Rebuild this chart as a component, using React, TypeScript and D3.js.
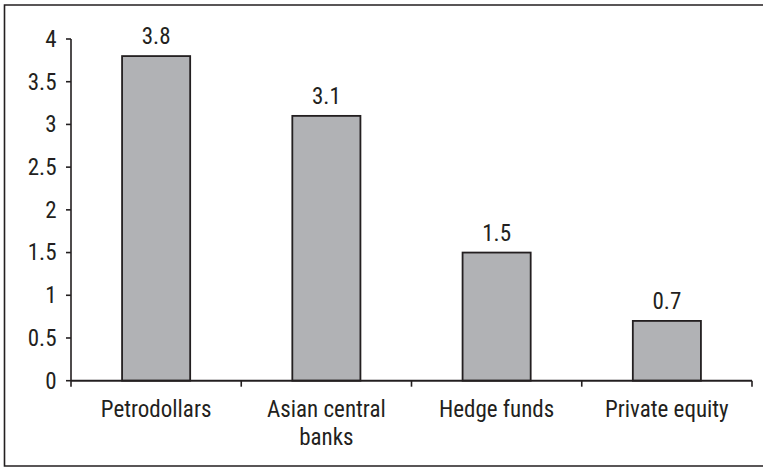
import React from "react";
import * as d3 from "d3";

const categories: string[][] = [["Petrodollars"], ["Asian central", "banks"], ["Hedge funds"], ["Private equity"]];
const values: number[] = [3.8, 3.1, 1.5, 0.7];
const valueLabels: string[] = ["3.8", "3.1", "1.5", "0.7"];
const yTicks: number[] = [0, 0.5, 1, 1.5, 2, 2.5, 3, 3.5, 4];
const yTickLabels: string[] = ["0", "0.5", "1", "1.5", "2", "2.5", "3", "3.5", "4"];

const W = 763;
const H = 467;
const FONT = "'Liberation Sans Narrow', 'Arial Narrow', 'Roboto Condensed', sans-serif";
const FS = 23;

export default function App() {
  const x0 = 71, x1 = 752, yBase = 380.7, yTop = 39;
  const x = d3.scaleBand<number>().domain(values.map((_, i) => i)).range([x0, x1]).paddingInner(0).paddingOuter(0);
  const y = d3.scaleLinear().domain([0, 4]).range([yBase, yTop]);
  const bw = x.bandwidth() * 0.4;
  const ink = "#231f20";
  const boundaries = d3.range(values.length + 1).map((i) => x0 + i * x.bandwidth());

  return (
    <svg width={W} height={H} style={{ position: "absolute", left: 0, top: 0, background: "#fff" }} fontFamily={FONT}>
      {/* frame */}
      <path d={`M${W + 5},5 H4.5 V466 H${W + 5}`} fill="none" stroke={ink} strokeWidth={1.6} />
      {/* bars */}
      {values.map((v, i) => {
        const cx = (x(i) as number) + x.bandwidth() / 2;
        return (
          <g key={i}>
            <rect x={cx - bw / 2} y={y(v)} width={bw} height={yBase - y(v)} fill="#b1b2b5" stroke={ink} strokeWidth={1.8} />
            <text x={cx} y={y(v) - 12} textAnchor="middle" fontSize={FS} fill={ink}>{valueLabels[i]}</text>
            {categories[i].map((line, j) => (
              <text key={j} x={cx} y={417 + j * 27.5} textAnchor="middle" fontSize={FS} fill={ink}>{line}</text>
            ))}
          </g>
        );
      })}
      {/* y axis */}
      <line x1={x0} x2={x0} y1={yTop} y2={yBase} stroke={ink} strokeWidth={1.6} />
      {yTicks.map((t, i) => (
        <g key={t}>
          <line x1={x0 - 5} x2={x0} y1={y(t)} y2={y(t)} stroke={ink} strokeWidth={1.6} />
          <text x={56.5} y={y(t) + 7.8} textAnchor="end" fontSize={FS} fill={ink}>{yTickLabels[i]}</text>
        </g>
      ))}
      {/* x axis */}
      <line x1={x0} x2={x1} y1={yBase} y2={yBase} stroke={ink} strokeWidth={2} />
      {boundaries.map((b, i) => (
        <line key={i} x1={b} x2={b} y1={yBase} y2={yBase + 6} stroke={ink} strokeWidth={1.6} />
      ))}
    </svg>
  );
}
